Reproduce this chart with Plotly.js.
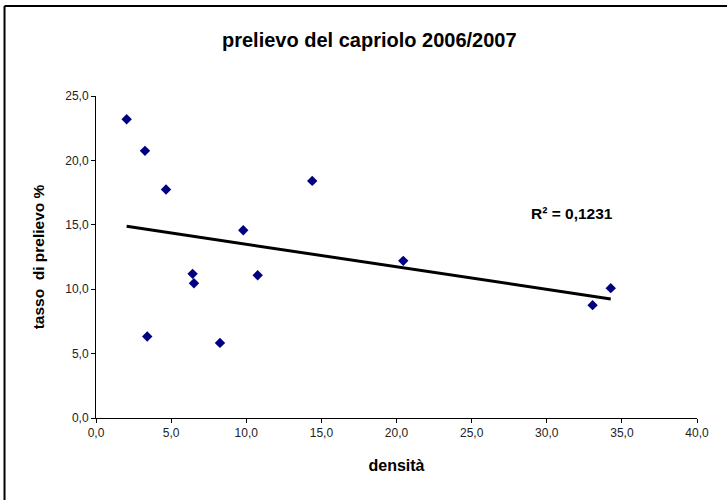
<!DOCTYPE html>
<html>
<head>
<meta charset="utf-8">
<script src="https://cdn.plot.ly/plotly-3.0.1.min.js"></script>
<style>html,body{margin:0;padding:0;background:#fff;}#chart{width:727px;height:500px;}</style>
</head>
<body>
<div id="chart"></div>
<script>
const densita = [2.04, 3.26, 4.66, 9.80, 6.43, 6.52, 10.76, 3.41, 8.25, 14.39, 20.45, 33.05, 34.26];
const tasso = [23.19, 20.74, 17.74, 14.58, 11.19, 10.46, 11.08, 6.33, 5.83, 18.41, 12.20, 8.76, 10.08];
const r2Label = 'R² = 0,1231';
const xTicks = [0, 5, 10, 15, 20, 25, 30, 35, 40];
const yTicks = [0, 5, 10, 15, 20, 25];

// least-squares trend line
const n = densita.length;
const mx = densita.reduce((a, b) => a + b, 0) / n;
const my = tasso.reduce((a, b) => a + b, 0) / n;
let sxy = 0, sxx = 0;
for (let i = 0; i < n; i++) { sxy += (densita[i] - mx) * (tasso[i] - my); sxx += (densita[i] - mx) ** 2; }
const slope = sxy / sxx, icpt = my - slope * mx;
const xmin = Math.min(...densita), xmax = Math.max(...densita);
const trendX = [xmin, xmax];
const trendY = trendX.map(x => icpt + slope * x);

const font = 'Liberation Sans, Arial, sans-serif';
const traces = [
  {x: trendX, y: trendY, mode: 'lines', line: {color: '#000', width: 3}, hoverinfo: 'skip'},
  {x: densita, y: tasso, mode: 'markers', marker: {symbol: 'diamond', size: 8, color: '#000080'}}
];
const layout = {
  width: 727, height: 500,
  margin: {l: 96, r: 30, t: 96, b: 82},
  paper_bgcolor: '#fff', plot_bgcolor: '#fff',
  showlegend: false,
  separators: ',.',
  font: {family: font, color: '#000'},
  title: {text: '<b>prelievo del capriolo 2006/2007</b>', x: 0.508, xanchor: 'center', y: 0.92, yanchor: 'middle', font: {size: 20, family: font, color: '#000'}},
  xaxis: {
    range: [0, 40], tickvals: xTicks, tickformat: '.1f', showgrid: false, zeroline: false,
    showline: true, linecolor: '#000', linewidth: 1, ticks: 'outside', ticklen: 4, tickcolor: '#000',
    tickfont: {size: 12, family: font, color: '#222'},
    title: {text: '<b>densità</b>', font: {size: 16, family: font, color: '#000'}, standoff: 20}
  },
  yaxis: {
    range: [0, 25], tickvals: yTicks, tickformat: '.1f', showgrid: false, zeroline: false,
    showline: true, linecolor: '#000', linewidth: 1, ticks: 'outside', ticklen: 4, tickcolor: '#000',
    tickfont: {size: 12, family: font, color: '#222'},
    title: {text: '<b>tasso\u00a0 di prelievo %</b>', font: {size: 15.5, family: font, color: '#000'}, standoff: 16}
  },
  annotations: [
    {xref: 'x', yref: 'y', x: 31.7, y: 15.9, text: '<b>' + r2Label + '</b>', showarrow: false, xanchor: 'center', yanchor: 'middle', font: {size: 15.5, family: font, color: '#000'}}
  ],
  shapes: [
    {type: 'line', xref: 'paper', yref: 'paper', x0: -0.1522, x1: 1.06, y0: 1.2795, y1: 1.2795, line: {color: '#000', width: 2}},
    {type: 'line', xref: 'paper', yref: 'paper', x0: -0.1522, x1: -0.1522, y0: 1.2795, y1: -0.27, line: {color: '#000', width: 2}}
  ]
};
Plotly.newPlot('chart', traces, layout, {displayModeBar: false, staticPlot: true});
</script>
</body>
</html>
